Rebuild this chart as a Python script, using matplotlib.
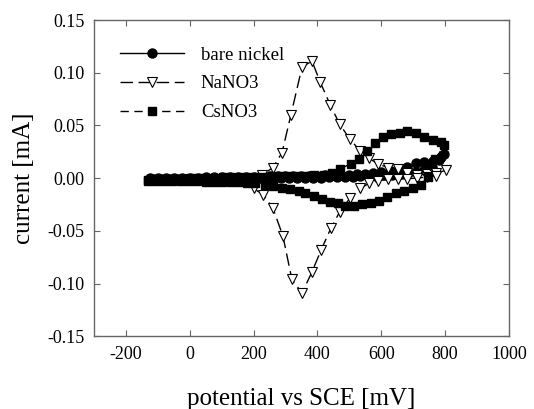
"""
Cyclic voltammograms: bare nickel, NaNO3 and CsNO3 (current vs potential)
"""

import numpy as np
import matplotlib
matplotlib.use('Agg')
import matplotlib.pyplot as plt

# Bare nickel loop (forward then reverse), potential in mV, current in mA
nickel_mv = [-125, -100, -75, -50, -25, 0, 25, 50, 75, 100, 125, 150, 175, 200, 225, 250,
             275, 300, 325, 350, 375, 400, 425, 450, 475, 500, 525, 550, 575, 600, 630,
             656, 682, 709, 735, 761, 787, 796,
             780, 760, 735, 710, 685, 660, 635, 610, 585, 560, 535, 510, 485, 460, 435,
             410, 385, 360, 335, 310, 285, 260, 235, 210, 185, 160, 135, 110, 85, 60, 35,
             10, -15, -40, -65, -90, -115]
nickel_ma = [0.000, 0.000, 0.000, 0.000, 0.000, 0.000, 0.000, 0.001, 0.001, 0.001, 0.001,
             0.001, 0.001, 0.001, 0.001, 0.002, 0.002, 0.002, 0.002, 0.002, 0.002, 0.002,
             0.003, 0.003, 0.003, 0.003, 0.004, 0.004, 0.005, 0.006, 0.007, 0.008, 0.0105,
             0.014, 0.0155, 0.016, 0.020, 0.023,
             0.017, 0.011, 0.008, 0.006, 0.005, 0.004, 0.003, 0.003, 0.002, 0.002, 0.002,
             0.001, 0.001, 0.001, 0.001, 0.000, 0.000, 0.000, 0.000, 0.000, 0.000, 0.000,
             0.000, -0.001, -0.001, -0.001, -0.001, -0.001, -0.001, -0.001, -0.001, -0.001,
             -0.001, -0.001, -0.001, -0.001, -0.001]

# NaNO3 loop
na_mv = [200, 226, 260, 289, 317, 352, 383, 409, 441, 470, 502, 533, 562, 591, 621, 651,
         682, 712, 742, 772, 803,
         772, 742, 712, 682, 651, 621, 591, 562, 533, 502, 470, 443, 412, 383, 352, 320,
         292, 260, 231, 200]
na_ma = [-0.004, 0.003, 0.0098, 0.024, 0.060, 0.1056, 0.111, 0.091, 0.069, 0.051, 0.037,
         0.026, 0.0187, 0.0133, 0.010, 0.0083, 0.0045, 0.003, 0.004, 0.0044, 0.0076,
         0.002, 0.001, 0.000, -0.0005, -0.001, -0.001, -0.0025, -0.005, -0.0098, -0.019,
         -0.032, -0.047, -0.068, -0.089, -0.109, -0.096, -0.055, -0.028, -0.016, -0.0098]

# CsNO3 loop
cs_mv = [-130, -104, -78, -52, -26, 0, 26, 52, 78, 104, 130, 156, 182, 208, 234, 260, 286,
         312, 338, 364, 390, 420, 446, 472, 504, 530, 554, 580, 606, 632, 658, 682, 709,
         735, 761, 787, 796,
         770, 745, 724, 698, 672, 646, 619, 593, 567, 541, 514, 488, 464, 439, 413, 388,
         362, 341, 315, 289, 262, 236, 205, 180, 154, 128, 102, 76, 50, 24, -2, -28, -54,
         -80, -106, -130]
cs_ma = [-0.002, -0.002, -0.001, -0.001, -0.001, 0.000, 0.000, 0.000, 0.000, 0.001, 0.001,
         0.001, 0.001, 0.001, 0.001, 0.002, 0.002, 0.002, 0.002, 0.002, 0.003, 0.003,
         0.0045, 0.009, 0.0135, 0.0177, 0.0256, 0.0335, 0.039, 0.0417, 0.043, 0.045, 0.043,
         0.039, 0.036, 0.034, 0.031,
         0.018, 0.001, -0.0066, -0.0098, -0.012, -0.0145, -0.018, -0.0215, -0.0234, -0.025,
         -0.0266, -0.026, -0.024, -0.0225, -0.020, -0.0167, -0.014, -0.012, -0.0105, -0.0095,
         -0.0078, -0.0066, -0.005, -0.0045, -0.004, -0.004, -0.0035, -0.0035, -0.0035,
         -0.003, -0.003, -0.003, -0.003, -0.003, -0.003, -0.003]

x_ticks = [-200, 0, 200, 400, 600, 800, 1000]
y_ticks = [-0.15, -0.10, -0.05, 0.00, 0.05, 0.10, 0.15]


def main():
    plt.rcParams['font.family'] = 'Liberation Serif'
    plt.rcParams['axes.unicode_minus'] = False

    fig = plt.figure(figsize=[5.34, 4.09], dpi=100, facecolor='white')
    ax = fig.add_axes([0.176, 0.178, 0.777, 0.773])

    ax.plot(nickel_mv, nickel_ma, color='black', lw=1.0, ls='-',
            marker='o', ms=6.5, mfc='black', mec='black', label='bare nickel')
    ax.plot(na_mv, na_ma, color='black', lw=1.0, ls=(0, (9, 4)),
            marker='v', ms=7, mfc='white', mec='black', mew=0.8, label='NaNO3')
    ax.plot(cs_mv, cs_ma, color='black', lw=1.0, ls=(0, (6, 4)),
            marker='s', ms=5.5, mfc='black', mec='black', label='CsNO3')

    ax.set_xlim(-300, 1000)
    ax.set_ylim(-0.15, 0.15)
    ax.set_xticks(x_ticks)
    ax.set_yticks(y_ticks)
    ax.set_yticklabels(['%.2f' % v for v in y_ticks])

    for s in ax.spines.values():
        s.set_color('#666666')
        s.set_linewidth(1.0)
    ax.tick_params(direction='in', length=4, width=0.8, color='#666666',
                   top=True, right=True, labelsize=13, pad=7)

    ax.set_xlabel('potential vs SCE [mV]', fontsize=18, labelpad=18)
    ax.set_ylabel('current [mA]', fontsize=18, labelpad=9)

    leg = ax.legend(loc='upper left', bbox_to_anchor=(0.045, 0.94), frameon=False,
                    fontsize=13.5, numpoints=1, handlelength=3.4, handletextpad=0.9,
                    labelspacing=0.62, borderaxespad=0)

    plt.savefig('out.png', dpi=100)


if __name__ == '__main__':
    main()
